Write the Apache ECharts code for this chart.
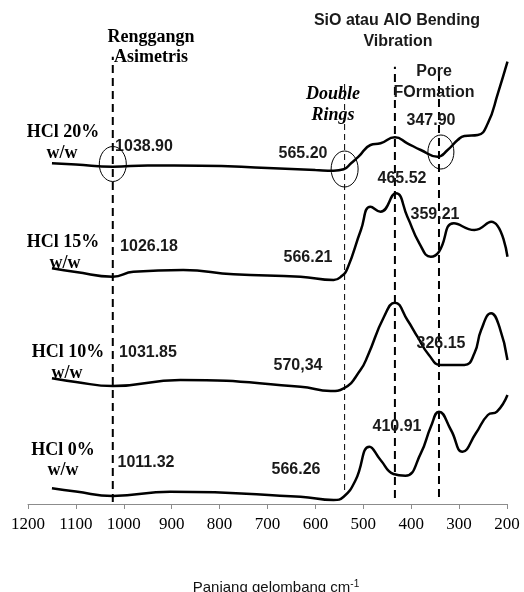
<!DOCTYPE html>
<html>
<head>
<meta charset="utf-8">
<script src="https://cdn.jsdelivr.net/npm/echarts@6/dist/echarts.min.js"></script>
<style>
html,body{margin:0;padding:0;background:#fff;}
#c{width:524px;height:592px;}
</style>
</head>
<body>
<div id="c"></div>
<script>
// x tick labels (wavenumber, cm-1)
var xTicks = [1200, 1100, 1000, 900, 800, 700, 600, 500, 400, 300, 200];

// Spectra: [wavenumber, transmittance (arbitrary, stacked)]
var hcl20 = [[1150,340.7],[1100,339.5],[1023,337.3],[950,338.5],[840,338.3],[700,336],[600,334],[562,333.3],[541,334.7],[525,341],[510,347.3],[485,359],[464,360.7],[434,366.7],[408,360.7],[380,354],[345,347.3],[324,354],[303,364],[289,368],[261,369],[240,380.7],[219,410.7],[199,442.3]];
var hcl15 = [[1150,235.7],[1100,232],[1023,227.3],[980,232.3],[876,234],[771,229.7],[631,227.3],[562,224],[545,228],[533,235.7],[505,274],[485,297.3],[464,292.3],[432,310.7],[408,287.3],[383,260.7],[359,247.3],[342,252.3],[311,280.7],[268,274],[233,282.3],[199,247.3]];
var hcl10 = [[1150,125.7],[1100,122],[1023,118],[882,124],[631,117.3],[568,113],[541,115.7],[506,134],[490,149],[457,187],[434,201.3],[408,184],[387,167.3],[363,149],[338,139],[289,139],[268,150.7],[254,174],[233,190.7],[216,177.3],[199,144]];
var hcl0 = [[1150,15.7],[1100,12.5],[1023,8],[903,12.3],[631,7.3],[562,4],[541,7.3],[516,24],[487,57.3],[464,44],[437,30],[412,28.3],[380,50.7],[359,77.3],[342,92.3],[317,74],[293,52.3],[265,70.7],[240,89],[221,92.3],[199,109]];

// Reference (dashed) band positions: [wavenumber, lower, upper]
var bandLines = [[1023, 2, 447.3], [539, 14, 424], [434, 6, 437.3], [342, 7, 437]];

// Encircled points [wavenumber, value]
var circleMarks = [[1023, 340], [539, 335], [338, 352]];

// Sample names & peak labels
var sampleNames = ["HCl 20%", "HCl 15%", "HCl 10%", "HCl 0%"];
var peakLabels = ["1038.90","565.20","347.90","465.52","1026.18","566.21","359.21","1031.85","570,34","326.15","1011.32","566.26","410.91"];

var chart = echarts.init(document.getElementById('c'), null, {renderer:'canvas'});

function curve(d){
  return {type:'line', data:d, smooth:true, symbol:'none', silent:true,
    lineStyle:{color:'#000', width:2.5}};
}
function dash(b, w, pat){
  return {type:'line', data:[[b[0],b[1]],[b[0],b[2]]], symbol:'none', silent:true,
    lineStyle:{color:'#000', width:w, type:pat}};
}

var series = [curve(hcl20), curve(hcl15), curve(hcl10), curve(hcl0)];
series.push(dash(bandLines[0], 2, [8,5]));
series.push(dash(bandLines[1], 1, [6,4]));
series.push(dash(bandLines[2], 2, [8,5]));
series.push(dash(bandLines[3], 2, [8,5]));

chart.setOption({
  animation:false,
  grid:{left:28, right:17, top:54, bottom:88},
  xAxis:{type:'value', inverse:true, min:200, max:1200, interval:100,
    axisLine:{show:true, onZero:false, lineStyle:{color:'#8c8c8c', width:1}},
    axisTick:{show:true, length:5, lineStyle:{color:'#8c8c8c'}},
    splitLine:{show:false},
    axisLabel:{color:'#000', fontFamily:'Liberation Serif', fontSize:17, margin:12,
      formatter:function(v){ return xTicks.indexOf(v) >= 0 ? String(v) : ''; }}
  },
  yAxis:{type:'value', min:0, max:450, show:false, splitLine:{show:false}},
  series:series
});

var serif = {fontFamily:'Liberation Serif', fontWeight:'bold', fontSize:18, fill:'#000'};
var sans = {fontFamily:'Liberation Sans', fontWeight:'bold', fontSize:16, fill:'#1a1a1a'};
function T(txt, x, y, st, extra){
  var s = Object.assign({text:txt, x:0, y:0, textAlign:'center', textVerticalAlign:'middle'}, st, extra||{});
  return {type:'text', x:x, y:y, style:s, silent:true, z:10};
}

var g = [];
g.push(T('Renggangn', 151, 37, serif));
g.push(T('Asimetris', 151, 57, serif));
g.push(T('SiO atau AlO Bending', 397, 21, sans));
g.push(T('Vibration', 398, 42, sans));
g.push(T('Pore', 434, 72, sans));
g.push(T('FOrmation', 434, 93, sans));
g.push(T('Double', 333, 94, serif, {fontStyle:'italic'}));
g.push(T('Rings', 333, 115, serif, {fontStyle:'italic'}));

var namePos = [[63,132,62,153],[63,242,65,263],[68,352,67,373],[63,450,63,470]];
for (var i=0;i<4;i++){
  g.push(T(sampleNames[i], namePos[i][0], namePos[i][1], serif));
  g.push(T('w/w', namePos[i][2], namePos[i][3], serif));
}
var peakPos = [[144,147],[303,154],[431,121],[402,179],[149,247],[308,258],[435,215],[148,353],[298,366],[441,344],[146,463],[296,470],[397,427]];
for (var j=0;j<peakLabels.length;j++){
  g.push(T(peakLabels[j], peakPos[j][0], peakPos[j][1], sans));
}
var radii = [[13.5,17.5],[13.5,18],[13,17]];
for (var k=0;k<circleMarks.length;k++){
  var p = chart.convertToPixel({gridIndex:0}, circleMarks[k]);
  g.push({type:'ellipse', shape:{cx:p[0], cy:p[1], rx:radii[k][0], ry:radii[k][1]},
    style:{fill:'none', stroke:'#000', lineWidth:1}, silent:true, z:11});
}
g.push({type:'text', x:276, y:588, silent:true, z:10,
  style:{text:'{a|Panjang gelombang cm}{b|-1}', textAlign:'center', textVerticalAlign:'middle',
    rich:{a:{fontFamily:'Liberation Sans', fontSize:15, fill:'#111', color:'#111'},
          b:{fontFamily:'Liberation Sans', fontSize:10, fill:'#111', color:'#111', verticalAlign:'top', padding:[0,0,8,0]}}}});

chart.setOption({graphic:g});
</script>
</body>
</html>
